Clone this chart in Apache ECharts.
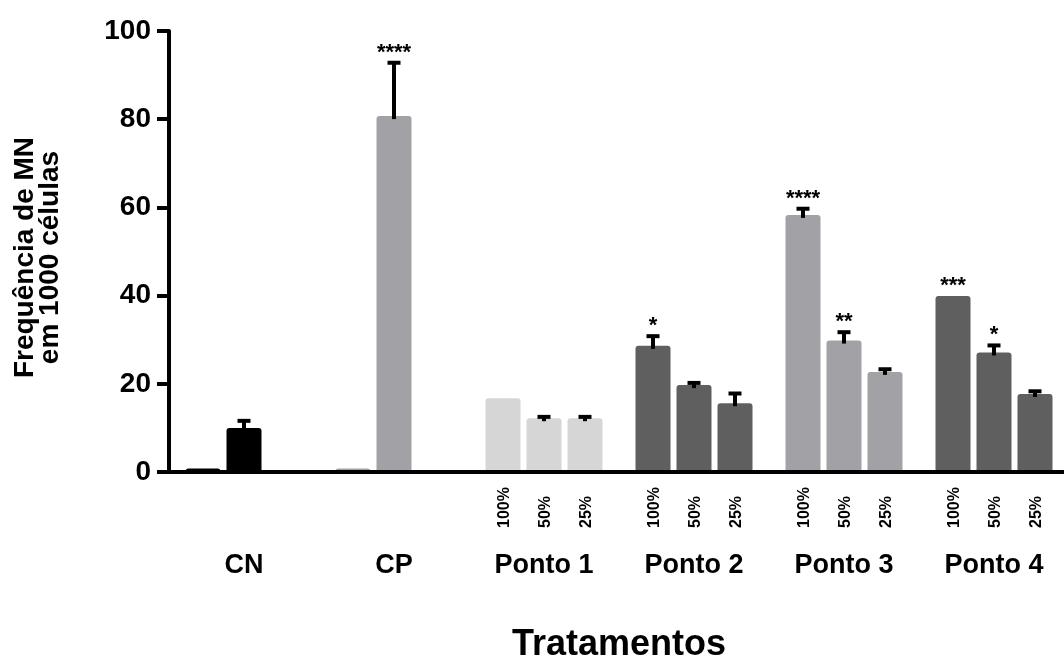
<!DOCTYPE html>
<html>
<head>
<meta charset="utf-8">
<script src="https://cdn.jsdelivr.net/npm/echarts@6/dist/echarts.min.js"></script>
<style>
  html, body { margin: 0; padding: 0; background: #ffffff; }
  #chart { width: 1064px; height: 659px; }
</style>
</head>
<body>
<div id="chart"></div>
<script>
// Treatment groups and the three dilutions tested for each sampling point
const groups = ['CN', 'CP', 'Ponto 1', 'Ponto 2', 'Ponto 3', 'Ponto 4'];
const doses = ['100%', '50%', '25%'];
const showDose = [false, false, true, true, true, true];

// Mean micronucleus frequency per 1000 cells (one array per dilution slot)
const mean100 = [0.8, 0.8, 16.7, 28.6, 58.3, 39.9];
const mean50  = [10.0, 80.7, 12.2, 19.7, 29.8, 27.1];
const mean25  = [null, null, 12.2, 15.6, 22.7, 17.7];

// Standard error of the mean (upper error bar)
const sem100 = [0, 0, 0, 2.2, 1.4, 0];
const sem50  = [1.6, 12.1, 0.3, 0.5, 1.9, 1.6];
const sem25  = [null, null, 0.3, 2.2, 0.6, 0.6];

// Significance marks versus the negative control
const sig100 = ['', '', '', '*', '****', '***'];
const sig50  = ['', '****', '', '', '**', '*'];
const sig25  = ['', '', '', '', '', ''];

// Y axis ticks
const yTicks = [0, 20, 40, 60, 80, 100];

// Fill colour of each group
const groupColors = ['#000000', '#a2a2a6', '#d6d6d6', '#5f5f5f', '#a2a2a6', '#5f5f5f'];

const SANS = '"Liberation Sans", Arial, sans-serif';

const BAR_W = 35;
const BAR_GAP = 6;
const SLOT_STEP = BAR_W + BAR_GAP;

const means = [mean100, mean50, mean25];
const sems = [sem100, sem50, sem25];
const sigs = [sig100, sig50, sig25];

function barSeries(slot) {
  return {
    type: 'bar',
    name: doses[slot],
    barWidth: BAR_W,
    barGap: (BAR_GAP / BAR_W * 100).toFixed(2) + '%',
    data: means[slot].map((v, i) => v == null ? null : {
      value: v,
      itemStyle: { color: groupColors[i] }
    }),
    itemStyle: { borderRadius: [3, 3, 0, 0] },
    silent: true,
    z: 2
  };
}

// Rows for the overlay: [group, mean, sem, slot]; text kept alongside
const overlayRows = [];
const overlayText = [];
for (let s = 0; s < 3; s++) {
  for (let i = 0; i < groups.length; i++) {
    if (means[s][i] == null) continue;
    overlayRows.push([i, means[s][i], sems[s][i] || 0, s]);
    overlayText.push({ sig: sigs[s][i], dose: showDose[i] ? doses[s] : '' });
  }
}

// Error bars, significance stars and dilution labels for every bar
function renderOverlay(params, api) {
  const gi = api.value(0);
  const mean = api.value(1);
  const err = api.value(2);
  const slot = api.value(3);
  const txt = overlayText[params.dataIndex];
  const base = api.coord([gi, 0]);
  const x = base[0] + (slot - 1) * SLOT_STEP;
  const yTop = api.coord([gi, mean])[1];
  const yErr = api.coord([gi, mean + err])[1];
  const children = [];
  if (err > 0) {
    children.push({
      type: 'line',
      shape: { x1: x, y1: yTop + 3, x2: x, y2: yErr },
      style: { stroke: '#000', lineWidth: 4 }
    });
    children.push({
      type: 'line',
      shape: { x1: x - 6.5, y1: yErr, x2: x + 6.5, y2: yErr },
      style: { stroke: '#000', lineWidth: 4 }
    });
  }
  if (txt.sig) {
    children.push({
      type: 'text',
      style: {
        text: txt.sig, x: x, y: yErr - 10,
        align: 'center', verticalAlign: 'middle',
        font: 'bold 22px ' + SANS, fill: '#000'
      }
    });
  }
  if (txt.dose) {
    children.push({
      type: 'text',
      x: x + 2, y: base[1] + 56,
      rotation: Math.PI / 2,
      style: {
        text: txt.dose, x: 0, y: 0,
        align: 'left', verticalAlign: 'middle',
        font: 'bold 16px ' + SANS, fill: '#000'
      }
    });
  }
  return { type: 'group', children: children };
}

const chart = echarts.init(document.getElementById('chart'), null, { renderer: 'canvas' });

chart.setOption({
  animation: false,
  backgroundColor: '#ffffff',
  grid: {
    left: 169, top: 31, width: 900, bottom: 187,
    containLabel: false, outerBoundsMode: 'none'
  },
  xAxis: {
    type: 'category',
    data: groups,
    z: 5,
    axisLine: { lineStyle: { color: '#000', width: 4 } },
    axisTick: { alignWithLabel: true, length: 13, lineStyle: { color: '#000', width: 4 } },
    axisLabel: {
      interval: 0, margin: 80, color: '#000', fontSize: 27, fontWeight: 'bold', fontFamily: SANS
    },
    name: 'Tratamentos',
    nameLocation: 'middle',
    nameGap: 155,
    nameTextStyle: { color: '#000', fontSize: 36, fontWeight: 'bold', fontFamily: SANS }
  },
  yAxis: {
    type: 'value',
    min: yTicks[0],
    max: yTicks[yTicks.length - 1],
    interval: yTicks[1] - yTicks[0],
    z: 5,
    splitLine: { show: false },
    axisLine: { show: true, lineStyle: { color: '#000', width: 4 } },
    axisTick: { show: true, length: 12, lineStyle: { color: '#000', width: 4 } },
    axisLabel: {
      margin: 18, color: '#000', fontSize: 28, fontWeight: 'bold', fontFamily: SANS
    },
    name: 'Frequência de MN\nem 1000 células',
    nameLocation: 'middle',
    nameRotate: 90,
    nameGap: 106,
    nameTextStyle: {
      color: '#000', fontSize: 28, fontWeight: 'bold', fontFamily: SANS, lineHeight: 25,
      padding: [0, 12, 0, 0]
    }
  },
  series: [
    barSeries(0),
    barSeries(1),
    barSeries(2),
    {
      type: 'custom',
      renderItem: renderOverlay,
      data: overlayRows,
      encode: { x: 0, y: 1 },
      z: 4,
      silent: true
    }
  ]
});
</script>
</body>
</html>
